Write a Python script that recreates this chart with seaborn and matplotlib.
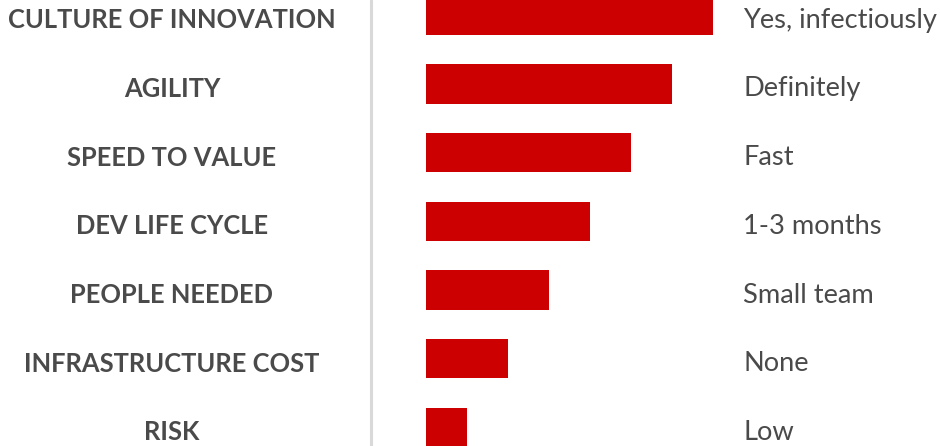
import matplotlib
matplotlib.use("Agg")
import matplotlib.pyplot as plt
import matplotlib.transforms as mtransforms
from matplotlib.lines import Line2D
import seaborn as sns

# data
categories = ["CULTURE OF INNOVATION", "AGILITY", "SPEED TO VALUE", "DEV LIFE CYCLE",
              "PEOPLE NEEDED", "INFRASTRUCTURE COST", "RISK"]
scores = [7, 6, 5, 4, 3, 2, 1]
answers = ["Yes, infectiously", "Definitely", "Fast", "1-3 months",
           "Small team", "None", "Low"]

sns.set_style("white")
plt.rcParams["font.family"] = ["Lato", "DejaVu Sans"]

W, H = 940, 446
fig = plt.figure(figsize=(W / 100, H / 100), dpi=100)
# bars start at x=426px, one score unit ~41px
ax = fig.add_axes([426 / W, 0, 1 - 426 / W, 1])

sns.barplot(x=scores, y=categories, color="#cc0000", saturation=1,
            width=0.572, linewidth=0, orient="h", ax=ax)

ax.set_xlim(0, (W - 426) / 41)
ax.set_ylim(6.27, -0.221)
ax.set_xlabel("")
ax.set_ylabel("")
ax.set_xticks([])
ax.set_yticks([])
sns.despine(ax=ax, left=True, bottom=True)

txt_color = "#4a4a4a"
tr_left = mtransforms.blended_transform_factory(fig.transFigure, ax.transData)
for i, (cat, ans) in enumerate(zip(categories, answers)):
    ax.annotate(cat, xy=(172 / W, i), xycoords=tr_left, xytext=(0, -5),
                textcoords="offset pixels", ha="center", va="center",
                fontsize=18.4, fontweight="bold", color=txt_color, annotation_clip=False)
    ax.annotate(ans, xy=(743 / W, i), xycoords=tr_left, xytext=(0, -5),
                textcoords="offset pixels", ha="left", va="center",
                fontsize=19.6, color=txt_color, annotation_clip=False)

# divider between labels and bars
fig.add_artist(Line2D([371 / W, 371 / W], [0, 1], transform=fig.transFigure,
                      color="#d9d9d9", linewidth=2.2))

fig.savefig("out.png", dpi=100)
